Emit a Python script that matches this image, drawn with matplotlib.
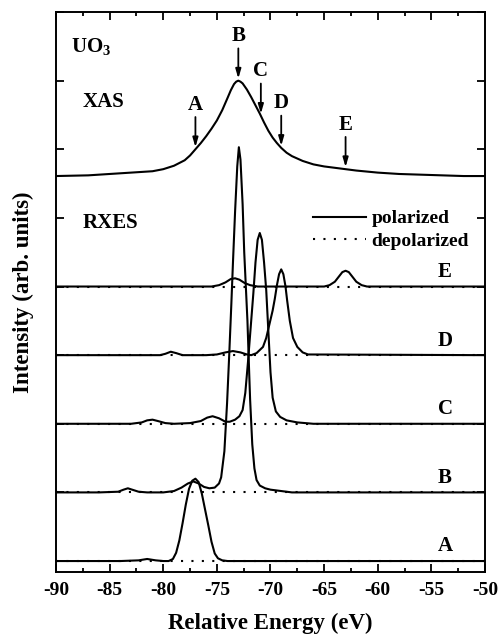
import numpy as np
import matplotlib
matplotlib.use("Agg")
import matplotlib.pyplot as plt
from matplotlib.ticker import MultipleLocator

# XAS spectrum (absolute units, A baseline = 0)
xas_energy = [-90, -87, -85, -83, -81, -80, -79, -78, -77.5, -77, -76.5, -76, -75.5, -75,
              -74.5, -74, -73.7, -73.4, -73.2, -73.0, -72.8, -72.6, -72.2, -71.8, -71.4,
              -71.0, -70.6, -70.2, -69.8, -69.4, -69.0, -68.5, -68, -67, -66, -65, -64, -63,
              -62, -60, -58, -56, -54, -52, -50]
xas_intensity = [5.61, 5.62, 5.64, 5.66, 5.68, 5.71, 5.76, 5.84, 5.91, 6.00, 6.09, 6.19, 6.30,
                 6.42, 6.57, 6.75, 6.86, 6.95, 6.985, 7.00, 6.985, 6.96, 6.87, 6.76, 6.64,
                 6.52, 6.39, 6.27, 6.17, 6.09, 6.02, 5.95, 5.90, 5.83, 5.78, 5.75, 5.73, 5.71,
                 5.69, 5.66, 5.64, 5.63, 5.62, 5.61, 5.61]

# XAS excitation points marked by arrows
exc_labels = ["A", "B", "C", "D", "E"]
exc_energy = [-77.0, -73.0, -70.9, -69.0, -63.0]

# RXES spectra (relative to their own baseline)
a_energy = [-90, -84, -82.3, -81.5, -80.7, -80, -79.5, -79.1, -78.8, -78.5, -78.2, -77.9,
            -77.6, -77.3, -77.0, -76.7, -76.4, -76.1, -75.8, -75.5, -75.2, -74.9, -74.5, -74, -50]
a_intensity = [0, 0, 0.01, 0.03, 0.01, 0, 0.0, 0.03, 0.12, 0.30, 0.55, 0.82,
               1.05, 1.17, 1.20, 1.15, 0.98, 0.75, 0.52, 0.28, 0.11, 0.04, 0.01, 0, 0]

b_energy = [-90, -86, -84.2, -83.7, -83.3, -82.9, -82.3, -81.5, -80, -79, -78.3, -77.7, -77.2,
            -76.7, -76.2, -75.7, -75.2, -74.8, -74.6, -74.3, -74.05, -73.85, -73.65, -73.5,
            -73.3, -73.1, -72.95, -72.8, -72.6, -72.45, -72.3, -72.15, -72.0, -71.9, -71.7,
            -71.5, -71.3, -71.0, -70.5, -70, -69, -68, -50]
b_intensity = [0, 0, 0.01, 0.04, 0.06, 0.04, 0.01, 0, 0, 0.02, 0.07, 0.13, 0.16,
               0.13, 0.08, 0.06, 0.07, 0.13, 0.22, 0.60, 1.30, 2.00, 2.75, 3.35,
               4.10, 4.75, 5.03, 4.85, 4.20, 3.50, 3.00, 2.50, 1.80, 1.35, 0.70,
               0.35, 0.18, 0.10, 0.06, 0.04, 0.02, 0, 0]

c_energy = [-90, -83, -82, -81.5, -81.0, -80.5, -79.8, -79, -77.5, -76.5, -75.9, -75.4, -74.8,
            -74.2, -73.8, -73.3, -72.9, -72.6, -72.35, -72.1, -71.85, -71.6, -71.4, -71.2,
            -71.0, -70.8, -70.6, -70.4, -70.2, -70.0, -69.8, -69.5, -69.1, -68.5, -67.5, -66, -50]
c_intensity = [0, 0, 0.02, 0.05, 0.06, 0.04, 0.01, 0, 0.01, 0.04, 0.09, 0.11, 0.08,
               0.03, 0.03, 0.06, 0.11, 0.20, 0.45, 0.90, 1.40, 1.90, 2.35, 2.68,
               2.78, 2.68, 2.35, 1.95, 1.35, 0.75, 0.38, 0.18, 0.10, 0.05, 0.02, 0, 0]

d_energy = [-90, -80.3, -79.8, -79.3, -78.8, -78.2, -76, -75, -74.2, -73.5, -72.8, -72.2,
            -71.8, -71.3, -70.7, -70.4, -70.1, -69.8, -69.6, -69.4, -69.2, -69.0, -68.8,
            -68.6, -68.45, -68.2, -67.9, -67.5, -67.0, -66.5, -50]
d_intensity = [0, 0, 0.02, 0.05, 0.03, 0, 0, 0.01, 0.04, 0.06, 0.04, 0.01,
               0.0, 0.03, 0.12, 0.25, 0.45, 0.65, 0.82, 1.02, 1.18, 1.25, 1.18,
               1.00, 0.80, 0.50, 0.25, 0.12, 0.04, 0.01, 0]

e_energy = [-90, -75.5, -74.8, -74.2, -73.7, -73.3, -72.9, -72.4, -71.9, -71.2, -65, -64.5,
            -64.0, -63.6, -63.3, -63.0, -62.7, -62.4, -62.0, -61.5, -61, -50]
e_intensity = [0, 0, 0.02, 0.06, 0.11, 0.12, 0.10, 0.05, 0.02, 0, 0, 0.02,
               0.07, 0.15, 0.21, 0.23, 0.21, 0.15, 0.07, 0.02, 0, 0]

# depolarized spectra: flat along each baseline
depol_energy = [-90, -50]
depol_intensity = [0, 0]

rxes_labels = ["A", "B", "C", "D", "E"]
rxes_offsets = [0, 1, 2, 3, 4]
rxes_energy = [a_energy, b_energy, c_energy, d_energy, e_energy]
rxes_intensity = [a_intensity, b_intensity, c_intensity, d_intensity, e_intensity]

plt.rcParams["font.family"] = ["Liberation Serif", "DejaVu Serif"]
plt.rcParams["font.weight"] = "bold"
plt.rcParams["axes.unicode_minus"] = False
plt.rcParams["mathtext.fontset"] = "custom"
plt.rcParams["mathtext.rm"] = "Liberation Serif:bold"
plt.rcParams["mathtext.bf"] = "Liberation Serif:bold"
plt.rcParams["mathtext.it"] = "Liberation Serif:bold"

fig = plt.figure(figsize=(5, 6.36), dpi=100)
ax = fig.add_axes([0.112, 0.1006, 0.858, 0.8805])

lw = 1.5
ax.plot(xas_energy, xas_intensity, color="k", lw=lw)

for i, (en, inten) in enumerate(zip(rxes_energy, rxes_intensity)):
    off = rxes_offsets[i]
    ax.plot(depol_energy, np.array(depol_intensity) + off, color="k", lw=lw,
            linestyle=(0, (1, 4)), label="depolarized" if i == 0 else None)
    ax.plot(en, np.array(inten) + off, color="k", lw=lw,
            label="polarized" if i == 0 else None)
    ax.text(-54.4, off + 0.14, rxes_labels[i], fontsize=15, fontweight="bold",
            ha="left", va="baseline")

# arrows on the XAS curve
for lab, e in zip(exc_labels, exc_energy):
    tip = np.interp(e, xas_energy, xas_intensity) + 0.03
    ax.annotate("", xy=(e, tip), xytext=(e, tip + 0.44),
                arrowprops=dict(arrowstyle="-|>,head_length=0.55,head_width=0.16",
                                color="k", lw=1.3, shrinkA=0, shrinkB=0))
    ax.text(e, tip + 0.62, lab, fontsize=15, fontweight="bold", ha="center", va="center")

ax.text(-88.6, 7.42, "UO$_3$", fontsize=15, ha="left", va="baseline")
ax.text(-87.5, 6.62, "XAS", fontsize=15, ha="left", va="baseline")
ax.text(-87.5, 4.85, "RXES", fontsize=15, ha="left", va="baseline")

handles, labels = ax.get_legend_handles_labels()
order = [labels.index("polarized"), labels.index("depolarized")]
ax.legend([handles[k] for k in order], [labels[k] for k in order],
          loc="upper right", bbox_to_anchor=(0.963, 0.647), frameon=False,
          fontsize=14, handlelength=2.7, handletextpad=0.3, labelspacing=0.25,
          borderpad=0, borderaxespad=0)

ax.set_xlim(-90, -50)
ax.set_ylim(-0.16, 8.0)
ax.xaxis.set_major_locator(MultipleLocator(5))
ax.xaxis.set_minor_locator(MultipleLocator(2.5))
ax.yaxis.set_major_locator(MultipleLocator(1))
ax.tick_params(axis="both", which="both", direction="in", top=True, right=True, width=1.3)
ax.tick_params(axis="both", which="major", length=6)
ax.tick_params(axis="x", which="minor", length=3)
ax.tick_params(axis="x", labelsize=14, pad=7)
ax.tick_params(axis="y", labelleft=False)
for lab in ax.get_xticklabels():
    lab.set_fontweight("bold")
for s in ax.spines.values():
    s.set_linewidth(1.4)

ax.set_xlabel("Relative Energy (eV)", fontsize=16.5, fontweight="bold", labelpad=10)
ax.set_ylabel("Intensity (arb. units)", fontsize=16.5, fontweight="bold", labelpad=16)

fig.savefig("out.png", dpi=100)
